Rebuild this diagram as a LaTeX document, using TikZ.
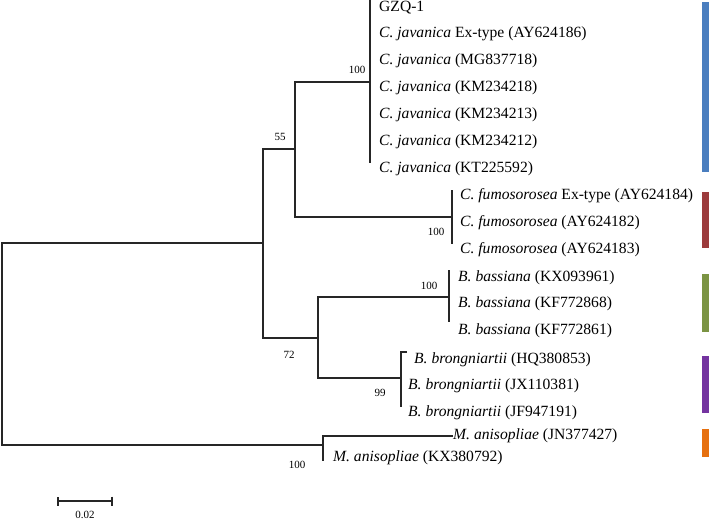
\documentclass[tikz,border=0pt]{standalone}
\usepackage{fontspec}
\setmainfont{Liberation Serif}
\usetikzlibrary{arrows.meta,positioning,calc}
\definecolor{CladeBlue}{HTML}{4A7EBF}
\definecolor{CladeRed}{HTML}{9C3B3C}
\definecolor{CladeGreen}{HTML}{7B9443}
\definecolor{CladePurple}{HTML}{7434A0}
\definecolor{CladeOrange}{HTML}{E6700F}

\begin{document}
\begin{tikzpicture}[
    x=1pt, y=-1pt,
    branch/.style={
      line width=1.8pt,
      color=black!85
    },
    taxon/.style={
      anchor=west,
      inner sep=0pt,
      font=\fontsize{15.6}{17}\selectfont
    },
    support/.style={
      inner sep=0pt,
      font=\fontsize{11}{13}\selectfont
    }
  ]
  \useasboundingbox (0,0) rectangle (709,523);

  % Cordyceps javanica
  \node[taxon] (gzq)  at (379,8)   {GZQ-1};
  \node[taxon] (javA) at (379,34)  {\textit{C. javanica} Ex-type (AY624186)};
  \node[taxon] (javB) at (379,61)  {\textit{C. javanica} (MG837718)};
  \node[taxon] (javC) at (379,88)  {\textit{C. javanica} (KM234218)};
  \node[taxon] (javD) at (379,115) {\textit{C. javanica} (KM234213)};
  \node[taxon] (javE) at (379,142) {\textit{C. javanica} (KM234212)};
  \node[taxon] (javF) at (379,169) {\textit{C. javanica} (KT225592)};

  % Cordyceps fumosorosea
  \node[taxon] (fumA) at (460,196) {\textit{C. fumosorosea} Ex-type (AY624184)};
  \node[taxon] (fumB) at (460,223) {\textit{C. fumosorosea} (AY624182)};
  \node[taxon] (fumC) at (460,250) {\textit{C. fumosorosea} (AY624183)};

  % Beauveria
  \node[taxon] (basA) at (458,278) {\textit{B. bassiana} (KX093961)};
  \node[taxon] (basB) at (458,304) {\textit{B. bassiana} (KF772868)};
  \node[taxon] (basC) at (458,331) {\textit{B. bassiana} (KF772861)};
  \node[taxon] (broA) at (414,360) {\textit{B. brongniartii} (HQ380853)};
  \node[taxon] (broB) at (408,386) {\textit{B. brongniartii} (JX110381)};
  \node[taxon] (broC) at (408,413) {\textit{B. brongniartii} (JF947191)};

  % Metarhizium (outgroup)
  \node[taxon] (metA) at (453,436) {\textit{M. anisopliae} (JN377427)};
  \node[taxon] (metB) at (333,458) {\textit{M. anisopliae} (KX380792)};

  % Internal nodes
  \coordinate (jav)  at (370,82);
  \coordinate (fum)  at (452,217);
  \coordinate (cor)  at (295,149);
  \coordinate (bas)  at (449,297);
  \coordinate (bro)  at (401,378);
  \coordinate (bea)  at (318,338);
  \coordinate (ing)  at (263,243);
  \coordinate (met)  at (323,445);
  \coordinate (root) at (2,345);

  % Branches
  \draw[branch] (root) |- (ing);
  \draw[branch] (root) |- (met);
  \draw[branch] (ing) |- (cor);
  \draw[branch] (ing) |- (bea);
  \draw[branch] (cor) |- (jav);
  \draw[branch] (cor) |- (fum);
  \draw[branch] (bea) |- (bas);
  \draw[branch] (bea) |- (bro);
  \draw[branch] ($(jav)+(0,-82)$) -- ($(jav)+(0,81)$);
  \draw[branch] ($(fum)+(0,-27)$) -- ($(fum)+(0,27)$);
  \draw[branch] ($(bas)+(0,-27)$) -- ($(bas)+(0,25)$);
  \draw[branch] ($(bro)+(6,-26)$) -- ($(bro)+(0,-26)$) -- ($(bro)+(0,29)$);
  \draw[branch] (metA.west) -| ($(met)+(0,16)$);

  % Bootstrap values
  \node[support] (bsJav) at (357,70)  {100};
  \node[support] (bsCor) at (280,137) {55};
  \node[support] (bsFum) at (436,232) {100};
  \node[support] (bsBas) at (429,286) {100};
  \node[support] (bsBea) at (289,355) {72};
  \node[support] (bsBro) at (380,393) {99};
  \node[support] (bsMet) at (297,465) {100};

  % Scale bar
  \node[support] (scale) at (85,515) {0.02};
  \draw[branch,{Bar[width=9pt]}-{Bar[width=9pt]}]
    ($(scale)+(-28,-14)$) -- ($(scale)+(28,-14)$);

  % Clade bars
  \fill[CladeBlue]   (702,2)   rectangle (709,172);
  \fill[CladeRed]    (702,192) rectangle (709,248);
  \fill[CladeGreen]  (702,274) rectangle (709,332);
  \fill[CladePurple] (702,356) rectangle (709,413);
  \fill[CladeOrange] (702,429) rectangle (709,457);

\end{tikzpicture}
\end{document}
